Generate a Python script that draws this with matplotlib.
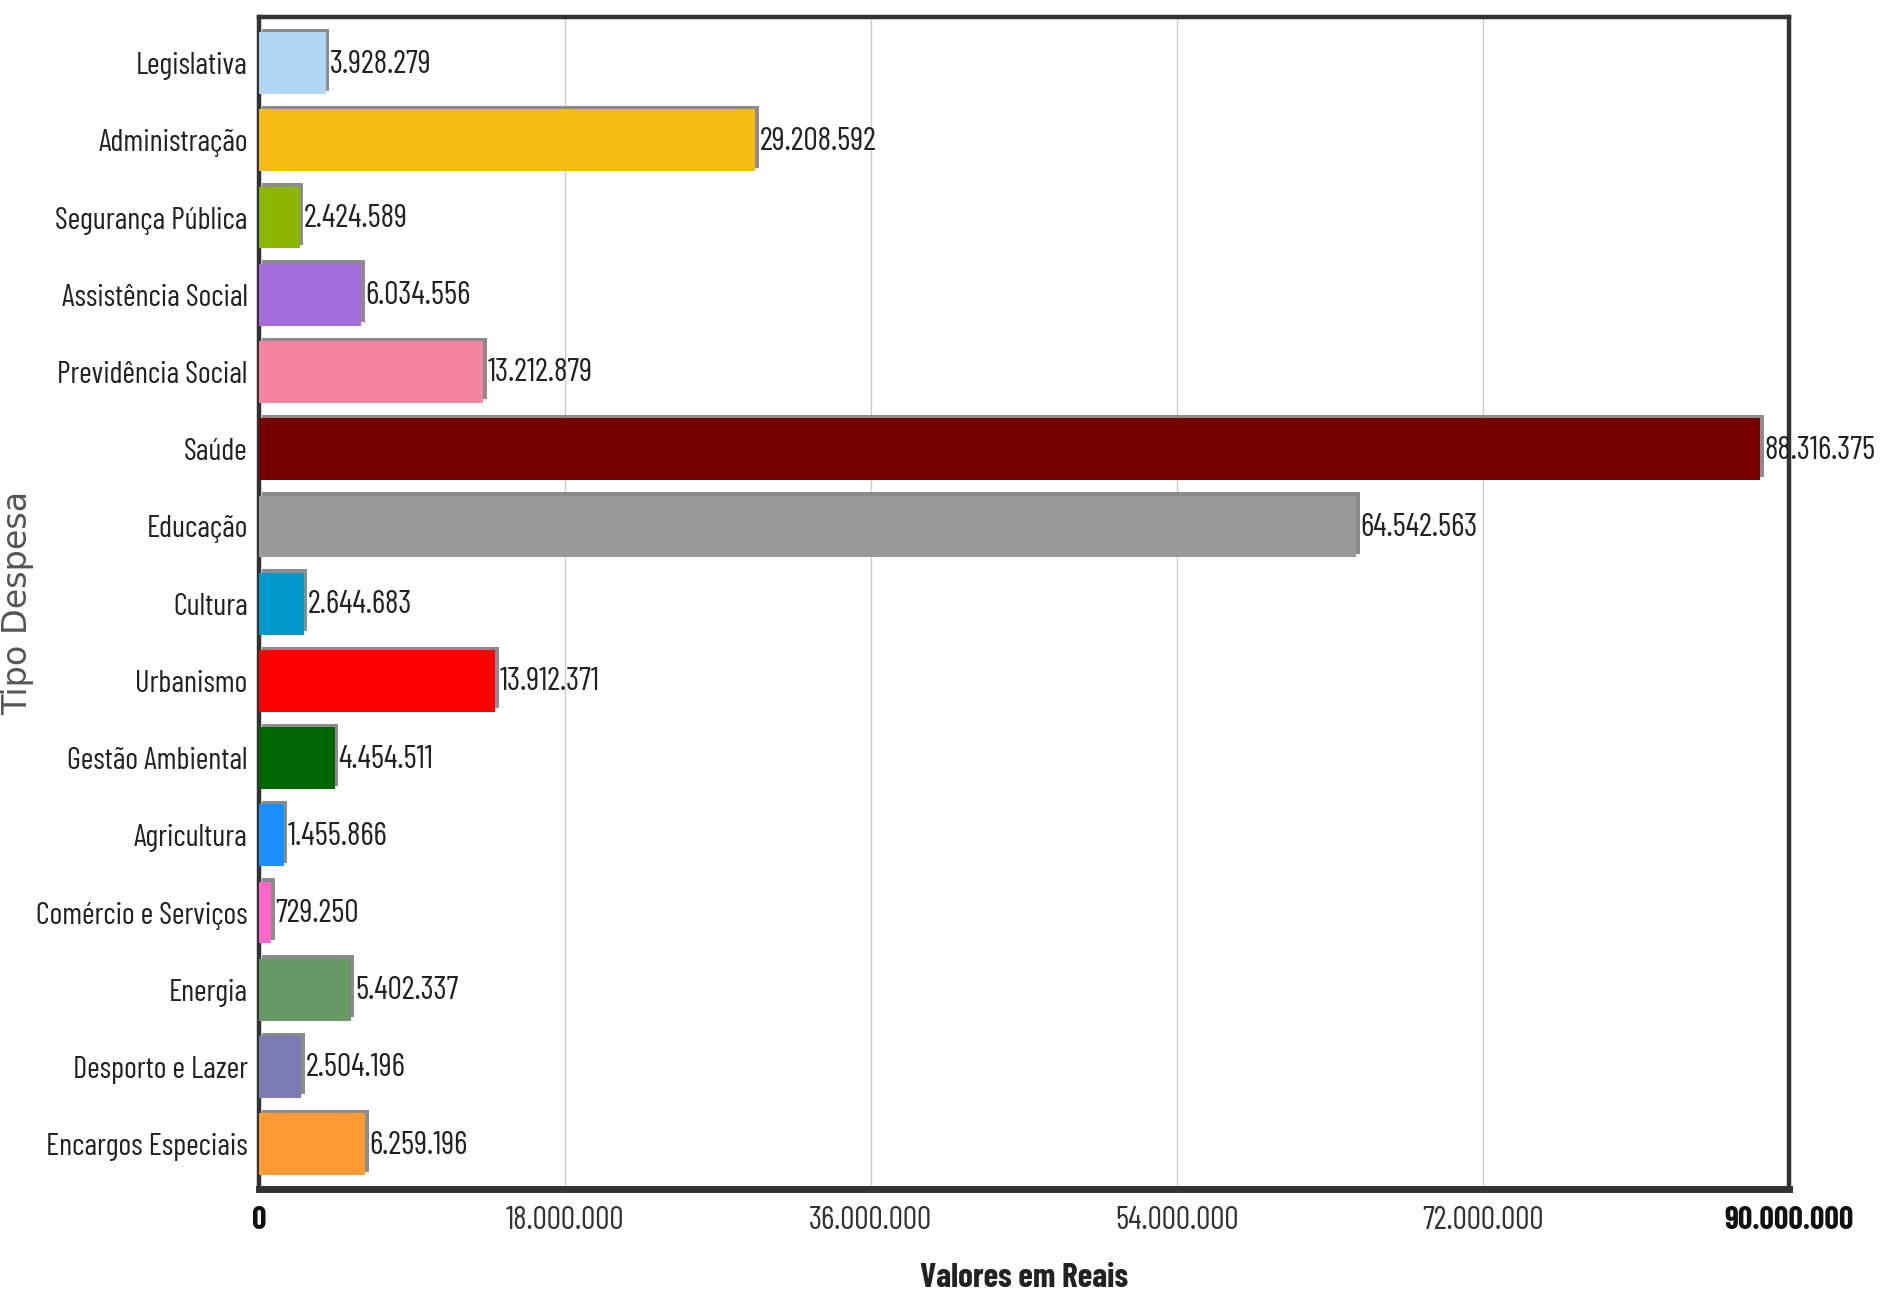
import matplotlib
matplotlib.use("Agg")
import matplotlib.pyplot as plt
import matplotlib.patheffects as pe
from matplotlib.ticker import FuncFormatter

# Categorias e valores (em reais)
categorias = ["Legislativa", "Administração", "Segurança Pública", "Assistência Social",
              "Previdência Social", "Saúde", "Educação", "Cultura", "Urbanismo",
              "Gestão Ambiental", "Agricultura", "Comércio e Serviços", "Energia",
              "Desporto e Lazer", "Encargos Especiais"]
valores = [3928279, 29208592, 2424589, 6034556, 13212879, 88316375, 64542563,
           2644683, 13912371, 4454511, 1455866, 729250, 5402337, 2504196, 6259196]
cores = ["#B0D6F4", "#F4BC12", "#8DB600", "#A46CDA", "#F7849F", "#760000", "#999999",
         "#0099CC", "#FF0000", "#006600", "#1C8FFF", "#FF66CC", "#669966",
         "#7B7BB4", "#FF9933"]
xticks = [0, 18000000, 36000000, 54000000, 72000000, 90000000]

# fonte estreita (como no original), com alternativas
narrow = ["Barlow Condensed", "Barlow Semi Condensed", "Roboto", "DejaVu Sans"]


def fmt(v):
    return f"{int(v):,}".replace(",", ".")


fig = plt.figure(figsize=(18.89, 12.91), dpi=100)
ax = fig.add_axes([0.137, 0.079, 0.81, 0.908])

y = list(range(len(categorias)))
bars = ax.barh(y, valores, height=0.8, color=cores, zorder=3)
for b in bars:
    b.set_path_effects([pe.SimplePatchShadow(offset=(2.5, 2.5), shadow_rgbFace="#808080", alpha=0.9),
                        pe.Normal()])

# rotulos de valor
for yi, v in zip(y, valores):
    ax.annotate(fmt(v), (v, yi), xytext=(3, -1), textcoords="offset points",
                ha="left", va="center", fontsize=23, family=narrow, color="#222222",
                annotation_clip=False, zorder=5)

ax.set_ylim(len(categorias) - 0.42, -0.6)
ax.set_xlim(0, 90000000)
ax.set_yticks(y)
ax.set_yticklabels(categorias, family=narrow, fontsize=22, color="#222222")
ax.set_xticks(xticks)
ax.xaxis.set_major_formatter(FuncFormatter(lambda v, p: fmt(v)))
for lbl in ax.get_xticklabels():
    lbl.set_family(narrow)
    lbl.set_fontsize(23)
    lbl.set_color("#333333")
for i in (0, -1):
    ax.get_xticklabels()[i].set_fontweight("bold")
    ax.get_xticklabels()[i].set_color("#111111")
ax.tick_params(axis="both", length=0)
ax.tick_params(axis="y", pad=8)
ax.tick_params(axis="x", pad=12)

ax.grid(axis="x", color="#CCCCCC", linewidth=1, zorder=0)
ax.set_axisbelow(True)

for s in ax.spines.values():
    s.set_color("#333333")
    s.set_linewidth(3.2)
ax.spines["bottom"].set_linewidth(5)

ax.set_xlabel("Valores em Reais", family=narrow, fontsize=24, fontweight="bold",
              color="#222222", labelpad=20)
fig.text(18 / 1889, 0.533, "Tipo Despesa", rotation=90, ha="center", va="center",
         family="DejaVu Sans", fontsize=24, color="#555555")

fig.savefig("out.png", dpi=100, facecolor="white")
